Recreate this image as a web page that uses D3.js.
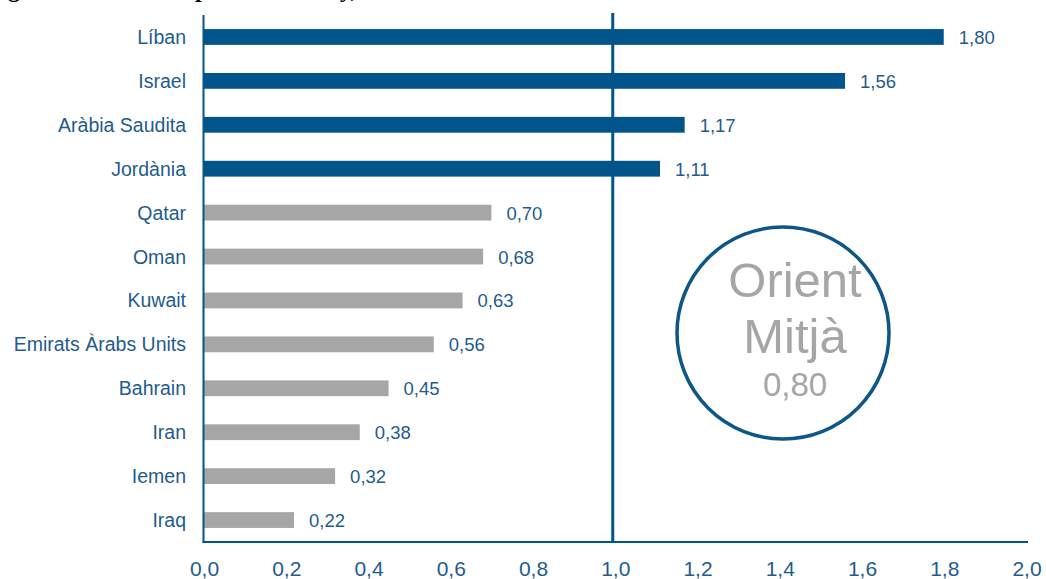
<!DOCTYPE html>
<html>
<head>
<meta charset="utf-8">
<script src="https://cdn.jsdelivr.net/npm/d3@7"></script>
<style>
  body { margin: 0; background: #fff; }
  text { font-family: "Liberation Sans", Arial, sans-serif; }
</style>
</head>
<body>
<div id="grafic"></div>
<script>
// dades
const paisos = ["Líban", "Israel", "Aràbia Saudita", "Jordània", "Qatar", "Oman", "Kuwait",
                "Emirats Àrabs Units", "Bahrain", "Iran", "Iemen", "Iraq"];
const valors = [1.80, 1.56, 1.17, 1.11, 0.70, 0.68, 0.63, 0.56, 0.45, 0.38, 0.32, 0.22];
const ticks = [0, 0.2, 0.4, 0.6, 0.8, 1.0, 1.2, 1.4, 1.6, 1.8, 2.0];
const mitjana = 0.80;
const referencia = 1.0;

const blau = "#02558b";
const gris = "#a6a6a6";
const textBlau = "#1f5c8e";

const svg = d3.select("#grafic")
  .append("svg")
  .attr("width", 1046)
  .attr("height", 579);

const x = d3.scaleLinear().domain([0, 2]).range([203.5, 1026]);
const y = d3.scaleBand().domain(paisos).range([15, 542]).paddingInner(0.64).paddingOuter(0.32);

const coma = (d, n) => d3.format("." + n + "f")(d).replace(".", ",");

// restes del títol (tallat a dalt)
svg.append("g")
  .selectAll("text")
  .data([["g", 8], ["p", 195], ["y,", 340]])
  .join("text")
  .attr("x", d => d[1])
  .attr("y", -3)
  .style("font-family", "'Liberation Serif', serif")
  .style("font-weight", "bold")
  .attr("font-size", 24)
  .text(d => d[0]);

// barres
svg.append("g")
  .selectAll("rect")
  .data(valors)
  .join("rect")
  .attr("x", x(0))
  .attr("y", (_, i) => y(paisos[i]))
  .attr("width", d => x(d) - x(0))
  .attr("height", y.bandwidth())
  .attr("fill", d => d > 1 ? blau : gris);

// etiquetes de valor
svg.append("g")
  .selectAll("text")
  .data(valors)
  .join("text")
  .attr("x", d => x(d) + 15)
  .attr("y", (_, i) => y(paisos[i]) + y.bandwidth() / 2)
  .attr("dy", "0.38em")
  .attr("font-size", 18.5)
  .attr("fill", textBlau)
  .text(d => coma(d, 2));

// noms dels països
svg.append("g")
  .selectAll("text")
  .data(paisos)
  .join("text")
  .attr("x", 186)
  .attr("y", d => y(d) + y.bandwidth() / 2)
  .attr("dy", "0.36em")
  .attr("text-anchor", "end")
  .attr("font-size", 19.5)
  .attr("fill", textBlau)
  .text(d => d);

// eixos
svg.append("line")
  .attr("x1", x(0)).attr("x2", x(0))
  .attr("y1", 15).attr("y2", 543)
  .attr("stroke", blau).attr("stroke-width", 2);

svg.append("line")
  .attr("x1", x(0) - 1).attr("x2", 1028)
  .attr("y1", 542).attr("y2", 542)
  .attr("stroke", blau).attr("stroke-width", 2);

svg.append("line")
  .attr("x1", x(referencia) - 2).attr("x2", x(referencia) - 2)
  .attr("y1", 13).attr("y2", 543)
  .attr("stroke", blau).attr("stroke-width", 3);

svg.append("g")
  .selectAll("text")
  .data(ticks)
  .join("text")
  .attr("x", d => x(d) + 1)
  .attr("y", 576)
  .attr("text-anchor", "middle")
  .attr("font-size", 21)
  .attr("fill", textBlau)
  .text(d => coma(d, 1));

// cercle Orient Mitjà
const cx = 783, cy = 333;
svg.append("circle")
  .attr("cx", cx).attr("cy", cy).attr("r", 106)
  .attr("fill", "#fff")
  .attr("stroke", "#0d5688")
  .attr("stroke-width", 3.5);

svg.append("g")
  .selectAll("text")
  .data([["Orient", 297, 49], ["Mitjà", 353, 49], [coma(mitjana, 2), 396, 33]])
  .join("text")
  .attr("x", cx + 12)
  .attr("y", d => d[1])
  .attr("text-anchor", "middle")
  .attr("font-size", d => d[2])
  .attr("fill", gris)
  .text(d => d[0]);
</script>
</body>
</html>
